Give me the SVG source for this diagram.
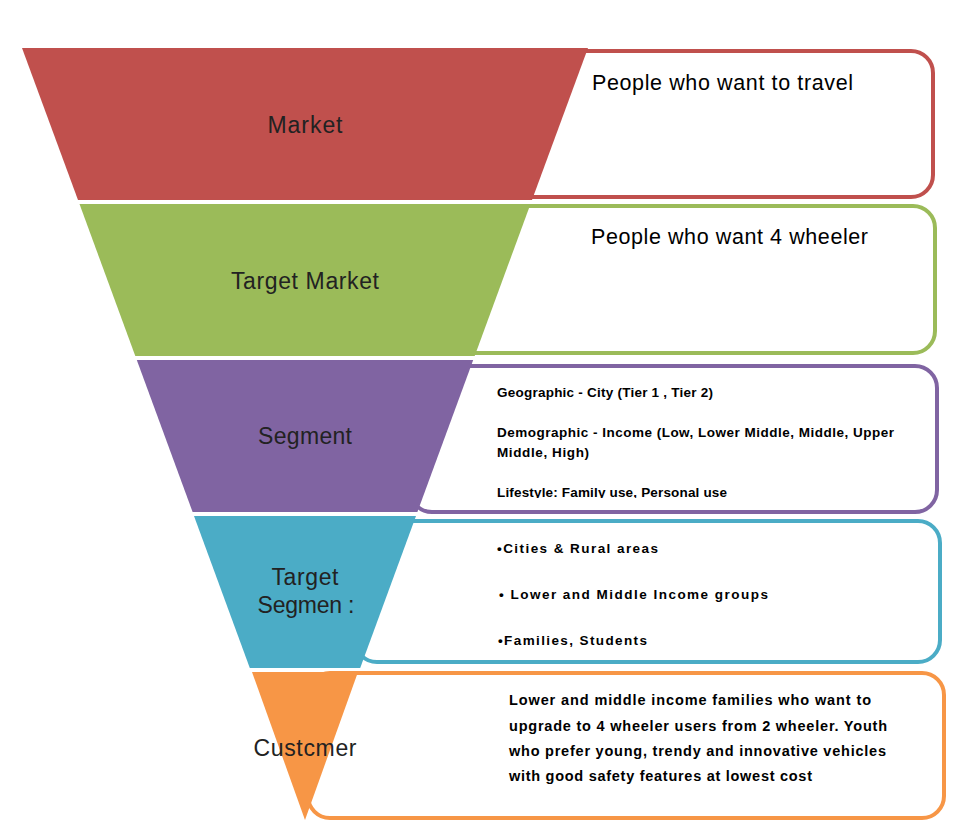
<svg xmlns="http://www.w3.org/2000/svg" width="965" height="825" viewBox="0 0 965 825">
<defs>
<style>
.box{fill:#fff;stroke-width:4}
.lbl{font-family:"Liberation Sans","Open Sans",sans-serif;font-size:23px;fill:#222;text-anchor:middle}
.big{font-family:"Liberation Sans","Open Sans",sans-serif;font-size:21.5px;fill:#000}
.sm{font-family:"Liberation Sans","Open Sans",sans-serif;font-size:13.5px;font-weight:bold;fill:#000}
.md{font-family:"Liberation Sans","Open Sans",sans-serif;font-size:14.5px;font-weight:bold;fill:#000}
</style>
<clipPath id="clipLife"><rect x="480" y="470" width="300" height="28"/></clipPath>
</defs>
<rect width="965" height="825" fill="#fff"/>
<g id="market">
<rect class="box" x="425" y="51" width="508" height="146" rx="22" stroke="#C0504D"/>
<polygon points="22,48 588,48 532,200 78,200" fill="#C0504D"/>
<text class="lbl" x="305" y="133" textLength="75">Market</text>
<text class="big" x="592" y="90" textLength="261">People who want to travel</text>
</g>
<g id="target-market">
<rect class="box" x="420" y="206" width="515" height="147" rx="22" stroke="#9BBB59"/>
<polygon points="79.5,204 530.5,204 474.7,356 135.3,356" fill="#9BBB59"/>
<text class="lbl" x="305" y="289" textLength="148">Target Market</text>
<text class="big" x="591" y="244" textLength="277">People who want 4 wheeler</text>
</g>
<g id="segment">
<rect class="box" x="410" y="366" width="527" height="146" rx="22" stroke="#8064A2"/>
<polygon points="136.8,360 473.2,360 417.4,512 192.6,512" fill="#8064A2"/>
<text class="lbl" x="305" y="444" textLength="94">Segment</text>
<text class="sm" x="497" y="397" textLength="216">Geographic - City (Tier 1 , Tier 2)</text>
<text class="sm" x="497" y="437" textLength="397">Demographic - Income (Low, Lower Middle, Middle, Upper</text>
<text class="sm" x="497" y="457" textLength="92">Middle, High)</text>
<text class="sm" x="497" y="497" textLength="230" clip-path="url(#clipLife)">Lifestyle: Family use, Personal use</text>
</g>
<g id="target-segment">
<rect class="box" x="355" y="521" width="585" height="141" rx="22" stroke="#4BACC6"/>
<polygon points="194,516 416,516 360.2,668 249.8,668" fill="#4BACC6"/>
<text class="lbl" x="305" y="585" textLength="67">Target</text>
<text class="lbl" x="306" y="613" textLength="97">Segmen :</text>
<text class="sm" x="497" y="553" textLength="161">•Cities &amp; Rural areas</text>
<text class="sm" x="499" y="599" textLength="269">• Lower and Middle Income groups</text>
<text class="sm" x="498" y="645" textLength="149">•Families, Students</text>
</g>
<g id="customer">
<rect class="box" x="308" y="673" width="636" height="145" rx="22" stroke="#F79646"/>
<polygon points="252,672 358,672 305,820" fill="#F79646"/>
<text class="lbl" x="305" y="756" textLength="103">Custcmer</text>
<text class="md" x="509" y="705" textLength="362">Lower and middle income families who want to</text>
<text class="md" x="509" y="731" textLength="378">upgrade to 4 wheeler users from 2 wheeler. Youth</text>
<text class="md" x="509" y="756" textLength="377">who prefer young, trendy and innovative vehicles</text>
<text class="md" x="509" y="781" textLength="303">with good safety features at lowest cost</text>
</g>
<g id="connectors"/>
</svg>
